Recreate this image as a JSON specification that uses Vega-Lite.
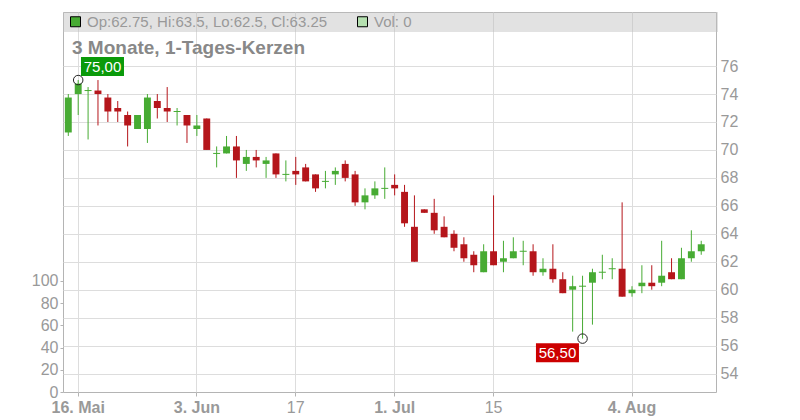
{
  "$schema": "https://vega.github.io/schema/vega-lite/v6.json",
  "width": 653,
  "height": 380,
  "autosize": {"type": "none"},
  "padding": {"left": 63, "top": 12, "right": 84, "bottom": 28},
  "background": "white",
  "title": {"text": "3 Monate, 1-Tages-Kerzen", "anchor": "start", "frame": "group", "offset": -61, "dx": 9, "fontSize": 19, "fontWeight": "bold", "color": "#888888", "baseline": "alphabetic"},
  "config": {
    "font": "Liberation Sans",
    "view": {"stroke": "#b4b4b4"},
    "axis": {"labelColor": "#999999", "labelFontSize": 16, "domainColor": "#b4b4b4", "tickColor": "#b4b4b4", "gridColor": "#dddddd", "title": null}
  },
  "datasets": {
    "candles": [
      {"d": "2025-05-15", "o": 71.25, "h": 74, "l": 71, "c": 73.75, "v": 0},
      {"d": "2025-05-16", "o": 74, "h": 75, "l": 72.5, "c": 74.75, "v": 0},
      {"d": "2025-05-19", "o": 74.25, "h": 74.5, "l": 70.75, "c": 74.25, "v": 0},
      {"d": "2025-05-20", "o": 74.25, "h": 75, "l": 71.75, "c": 74, "v": 0},
      {"d": "2025-05-21", "o": 73.75, "h": 74, "l": 72, "c": 72.75, "v": 0},
      {"d": "2025-05-22", "o": 73, "h": 73.5, "l": 72, "c": 72.75, "v": 0},
      {"d": "2025-05-23", "o": 72.5, "h": 72.75, "l": 70.25, "c": 71.75, "v": 0},
      {"d": "2025-05-26", "o": 71.5, "h": 72.5, "l": 71.5, "c": 72.5, "v": 0},
      {"d": "2025-05-27", "o": 71.5, "h": 74, "l": 70.5, "c": 73.75, "v": 0},
      {"d": "2025-05-28", "o": 73.5, "h": 74, "l": 72.25, "c": 73, "v": 0},
      {"d": "2025-05-29", "o": 73, "h": 74.5, "l": 72, "c": 72.75, "v": 0},
      {"d": "2025-05-30", "o": 72.75, "h": 73, "l": 71.75, "c": 72.75, "v": 0},
      {"d": "2025-06-02", "o": 72.5, "h": 72.5, "l": 70.5, "c": 71.75, "v": 0},
      {"d": "2025-06-03", "o": 71.5, "h": 72.5, "l": 71, "c": 71.75, "v": 0},
      {"d": "2025-06-04", "o": 72.25, "h": 72.25, "l": 70, "c": 70, "v": 0},
      {"d": "2025-06-05", "o": 69.75, "h": 70.25, "l": 68.75, "c": 69.75, "v": 0},
      {"d": "2025-06-06", "o": 69.75, "h": 71, "l": 69.75, "c": 70.25, "v": 0},
      {"d": "2025-06-09", "o": 70.25, "h": 71, "l": 68, "c": 69.25, "v": 0},
      {"d": "2025-06-10", "o": 69, "h": 70, "l": 68.5, "c": 69.5, "v": 0},
      {"d": "2025-06-11", "o": 69.5, "h": 70, "l": 68.75, "c": 69.25, "v": 0},
      {"d": "2025-06-12", "o": 69, "h": 69.5, "l": 68, "c": 69.25, "v": 0},
      {"d": "2025-06-13", "o": 69.75, "h": 69.75, "l": 68, "c": 68.25, "v": 0},
      {"d": "2025-06-16", "o": 68.25, "h": 69.25, "l": 67.75, "c": 68.25, "v": 0},
      {"d": "2025-06-17", "o": 68.5, "h": 69.5, "l": 67.5, "c": 68.25, "v": 0},
      {"d": "2025-06-18", "o": 68.75, "h": 69, "l": 67.75, "c": 67.75, "v": 0},
      {"d": "2025-06-19", "o": 68.25, "h": 68.25, "l": 67, "c": 67.25, "v": 0},
      {"d": "2025-06-20", "o": 67.75, "h": 68.5, "l": 67.25, "c": 67.75, "v": 0},
      {"d": "2025-06-23", "o": 68.25, "h": 68.75, "l": 67.5, "c": 68.5, "v": 0},
      {"d": "2025-06-24", "o": 69, "h": 69.25, "l": 67.75, "c": 68, "v": 0},
      {"d": "2025-06-25", "o": 68.25, "h": 68.5, "l": 66, "c": 66.25, "v": 0},
      {"d": "2025-06-26", "o": 66.25, "h": 67.25, "l": 65.75, "c": 66.75, "v": 0},
      {"d": "2025-06-27", "o": 66.75, "h": 67.75, "l": 66.5, "c": 67.25, "v": 0},
      {"d": "2025-06-30", "o": 67.25, "h": 68.75, "l": 66.5, "c": 67.25, "v": 0},
      {"d": "2025-07-01", "o": 67.5, "h": 68.25, "l": 66.75, "c": 67.25, "v": 0},
      {"d": "2025-07-02", "o": 67, "h": 67.5, "l": 64.5, "c": 64.75, "v": 0},
      {"d": "2025-07-03", "o": 64.5, "h": 66.75, "l": 62, "c": 62, "v": 0},
      {"d": "2025-07-04", "o": 65.75, "h": 65.75, "l": 65.5, "c": 65.5, "v": 0},
      {"d": "2025-07-07", "o": 65.5, "h": 66.5, "l": 64, "c": 64.25, "v": 0},
      {"d": "2025-07-08", "o": 64.5, "h": 65.25, "l": 63.75, "c": 63.75, "v": 0},
      {"d": "2025-07-09", "o": 64, "h": 64.25, "l": 62.75, "c": 63, "v": 0},
      {"d": "2025-07-10", "o": 63.25, "h": 63.75, "l": 62, "c": 62.25, "v": 0},
      {"d": "2025-07-11", "o": 62.5, "h": 62.75, "l": 61.25, "c": 61.75, "v": 0},
      {"d": "2025-07-14", "o": 61.25, "h": 63.25, "l": 61.25, "c": 62.75, "v": 0},
      {"d": "2025-07-15", "o": 62.75, "h": 66.75, "l": 61.75, "c": 61.75, "v": 0},
      {"d": "2025-07-16", "o": 62, "h": 63.5, "l": 61.25, "c": 62.25, "v": 0},
      {"d": "2025-07-17", "o": 62.25, "h": 63.75, "l": 62.25, "c": 62.75, "v": 0},
      {"d": "2025-07-18", "o": 62.75, "h": 63.5, "l": 61.75, "c": 62.75, "v": 0},
      {"d": "2025-07-21", "o": 62.75, "h": 63.25, "l": 61, "c": 61.25, "v": 0},
      {"d": "2025-07-22", "o": 61.25, "h": 62.25, "l": 61, "c": 61.5, "v": 0},
      {"d": "2025-07-23", "o": 61.5, "h": 63.25, "l": 60.5, "c": 60.75, "v": 0},
      {"d": "2025-07-24", "o": 60.75, "h": 61.25, "l": 59.75, "c": 59.75, "v": 0},
      {"d": "2025-07-25", "o": 60, "h": 61, "l": 57, "c": 60.25, "v": 0},
      {"d": "2025-07-28", "o": 60.25, "h": 61, "l": 56.5, "c": 60.25, "v": 0},
      {"d": "2025-07-29", "o": 60.5, "h": 61.5, "l": 57.5, "c": 61.25, "v": 0},
      {"d": "2025-07-30", "o": 61.25, "h": 62.5, "l": 60.75, "c": 61.25, "v": 0},
      {"d": "2025-07-31", "o": 61.5, "h": 62.25, "l": 60.75, "c": 61.5, "v": 0},
      {"d": "2025-08-01", "o": 61.5, "h": 66.25, "l": 59.5, "c": 59.5, "v": 0},
      {"d": "2025-08-04", "o": 59.75, "h": 60.25, "l": 59.5, "c": 60, "v": 0},
      {"d": "2025-08-05", "o": 60.25, "h": 61.75, "l": 59.75, "c": 60.5, "v": 0},
      {"d": "2025-08-06", "o": 60.5, "h": 61.75, "l": 60, "c": 60.25, "v": 0},
      {"d": "2025-08-07", "o": 60.5, "h": 63.5, "l": 60.25, "c": 61, "v": 0},
      {"d": "2025-08-08", "o": 61.25, "h": 62.25, "l": 60.75, "c": 60.75, "v": 0},
      {"d": "2025-08-11", "o": 60.75, "h": 63, "l": 60.75, "c": 62.25, "v": 0},
      {"d": "2025-08-12", "o": 62.25, "h": 64.25, "l": 62, "c": 62.75, "v": 0},
      {"d": "2025-08-13", "o": 62.75, "h": 63.5, "l": 62.5, "c": 63.25, "v": 0}
    ],
    "ann": [
      {"d": "2025-05-16", "p": 75, "t": "75,00", "kind": "hi"},
      {"d": "2025-07-28", "p": 56.5, "t": "56,50", "kind": "lo"}
    ],
    "hdr": [
      {"k": "Op:62.75, Hi:63.5, Lo:62.5, Cl:63.25"},
      {"k": "Vol: 0"}
    ]
  },
  "layer": [
    {
      "data": {"name": "candles"},
      "mark": {"type": "bar", "color": "#b5e0b0"},
      "encoding": {
        "x": {"field": "d", "type": "ordinal",
          "scale": {"type": "band", "paddingInner": 0.3, "paddingOuter": 0.665, "align": 0.14, "round": false},
          "axis": {
            "values": ["2025-05-16", "2025-06-03", "2025-06-17", "2025-07-01", "2025-07-15", "2025-08-04"],
            "labelExpr": "datum.value == '2025-05-16' ? '16. Mai' : datum.value == '2025-06-03' ? '3. Jun' : datum.value == '2025-06-17' ? '17' : datum.value == '2025-07-01' ? '1. Jul' : datum.value == '2025-07-15' ? '15' : '4. Aug'",
            "labelFontWeight": {"condition": {"test": "datum.value == '2025-06-17' || datum.value == '2025-07-15'", "value": "normal"}, "value": "bold"},
            "grid": true, "bandPosition": 0.5, "labelAngle": 0, "tickSize": 4, "labelPadding": 3, "domain": false, "title": null
          }
        },
        "y": {"field": "v", "type": "quantitative",
          "scale": {"domain": [0, 342], "nice": false, "zero": true},
          "axis": {"orient": "left", "values": [0, 20, 40, 60, 80, 100], "tickCount": 20, "labelOverlap": false, "grid": false, "tickSize": 3, "labelPadding": 2, "domain": false, "title": null}
        }
      }
    },
    {
      "layer": [
        {
          "data": {"name": "candles"},
          "mark": {"type": "rule", "strokeWidth": 1},
          "encoding": {
            "x": {"field": "d", "type": "ordinal", "scale": {"type": "band", "paddingInner": 0.3, "paddingOuter": 0.665, "align": 0.14, "round": false}},
            "y": {"field": "l", "type": "quantitative",
              "scale": {"domain": [52.68, 79.87], "nice": false, "zero": false},
              "axis": {"orient": "right", "values": [54, 56, 58, 60, 62, 64, 66, 68, 70, 72, 74, 76], "tickCount": 30, "labelOverlap": false, "grid": true, "ticks": false, "domain": false, "labelPadding": 4, "title": null}
            },
            "y2": {"field": "h"},
            "color": {"condition": {"test": "datum.c >= datum.o", "value": "#47ab33"}, "value": "#b5161b"}
          }
        },
        {
          "data": {"name": "candles"},
          "mark": {"type": "bar"},
          "encoding": {
            "x": {"field": "d", "type": "ordinal", "scale": {"type": "band", "paddingInner": 0.3, "paddingOuter": 0.665, "align": 0.14, "round": false}},
            "y": {"field": "o", "type": "quantitative"},
            "y2": {"field": "c"},
            "color": {"condition": {"test": "datum.c >= datum.o", "value": "#47ab33"}, "value": "#b5161b"}
          }
        },
        {
          "data": {"name": "candles"},
          "transform": [{"filter": "datum.o == datum.c"}],
          "mark": {"type": "tick", "thickness": 1, "size": 7, "color": "#47ab33", "opacity": 1},
          "encoding": {
            "x": {"field": "d", "type": "ordinal", "scale": {"type": "band", "paddingInner": 0.3, "paddingOuter": 0.665, "align": 0.14, "round": false}},
            "y": {"field": "c", "type": "quantitative"}
          }
        },
        {
          "data": {"name": "ann"},
          "mark": {"type": "point", "shape": "circle", "size": 90, "filled": false, "color": "#222222", "strokeWidth": 1, "opacity": 1},
          "encoding": {
            "x": {"field": "d", "type": "ordinal", "scale": {"type": "band", "paddingInner": 0.3, "paddingOuter": 0.665, "align": 0.14, "round": false}},
            "y": {"field": "p", "type": "quantitative"}
          }
        },
        {
          "data": {"name": "ann"},
          "transform": [{"filter": "datum.kind == 'hi'"}],
          "mark": {"type": "point", "shape": "M0.28,-2.3H4.58V-0.4H0.28Z", "size": 400, "filled": true, "color": "#0a9a0a", "opacity": 1, "strokeWidth": 0},
          "encoding": {
            "x": {"field": "d", "type": "ordinal", "scale": {"type": "band", "paddingInner": 0.3, "paddingOuter": 0.665, "align": 0.14, "round": false}},
            "y": {"field": "p", "type": "quantitative"}
          }
        },
        {
          "data": {"name": "ann"},
          "transform": [{"filter": "datum.kind == 'hi'"}],
          "mark": {"type": "text", "dx": 24.3, "dy": -13.5, "fontSize": 15, "color": "white", "align": "center", "baseline": "middle"},
          "encoding": {
            "x": {"field": "d", "type": "ordinal", "scale": {"type": "band", "paddingInner": 0.3, "paddingOuter": 0.665, "align": 0.14, "round": false}},
            "y": {"field": "p", "type": "quantitative"},
            "text": {"field": "t"}
          }
        },
        {
          "data": {"name": "ann"},
          "transform": [{"filter": "datum.kind == 'lo'"}],
          "mark": {"type": "point", "shape": "M-4.66,0.46H-0.36V2.36H-4.66Z", "size": 400, "filled": true, "color": "#cc0000", "opacity": 1, "strokeWidth": 0},
          "encoding": {
            "x": {"field": "d", "type": "ordinal", "scale": {"type": "band", "paddingInner": 0.3, "paddingOuter": 0.665, "align": 0.14, "round": false}},
            "y": {"field": "p", "type": "quantitative"}
          }
        },
        {
          "data": {"name": "ann"},
          "transform": [{"filter": "datum.kind == 'lo'"}],
          "mark": {"type": "text", "dx": -25.1, "dy": 14.1, "fontSize": 15, "color": "white", "align": "center", "baseline": "middle"},
          "encoding": {
            "x": {"field": "d", "type": "ordinal", "scale": {"type": "band", "paddingInner": 0.3, "paddingOuter": 0.665, "align": 0.14, "round": false}},
            "y": {"field": "p", "type": "quantitative"},
            "text": {"field": "t"}
          }
        },
        {
          "data": {"name": "hdr"},
          "mark": {"type": "point", "shape": "square", "filled": true, "opacity": 0},
          "encoding": {
            "color": {"field": "k", "type": "nominal",
              "scale": {"domain": ["Op:62.75, Hi:63.5, Lo:62.5, Cl:63.25", "Vol: 0"], "range": ["#47ab33", "#b5e0b0"]},
              "legend": {
                "title": null, "orient": "none", "legendX": 0, "legendY": 0, "direction": "horizontal",
                "fillColor": "rgba(190,190,190,0.45)", "padding": 2,
                "symbolType": "square", "symbolSize": 100, "symbolStrokeColor": "#000000", "symbolStrokeWidth": 1, "symbolOffset": 3, "symbolOpacity": 1,
                "labelFontSize": 15, "labelColor": "#999999", "labelOffset": 4, "columnPadding": 24, "labelLimit": 1000,
                "labelExpr": "datum.label == 'Vol: 0' ? pad(datum.label, 79, '\u00a0', 'right') + '\u200b' : datum.label"
              }
            }
          }
        }
      ]
    }
  ],
  "resolve": {"scale": {"y": "independent"}}
}
